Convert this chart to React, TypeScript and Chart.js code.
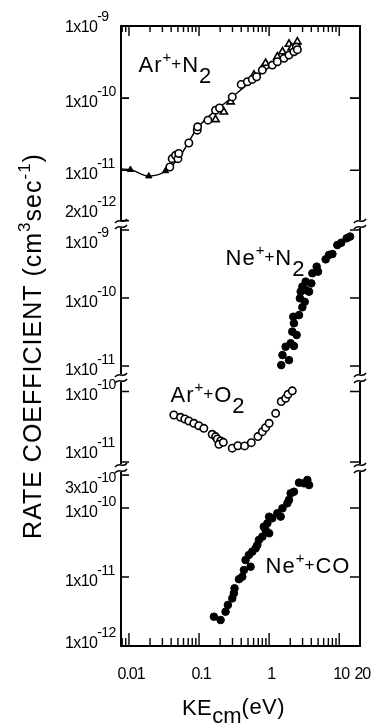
import React, { useEffect, useRef } from 'react';
import { Chart, registerables } from 'chart.js';

Chart.register(...registerables);

// ---- Data (x: KE_cm in eV, y: rate coefficient in cm^3 s^-1) ----
// Panel 1: Ar+ + N2
const arN2CircleKE = [0.0383, 0.0414, 0.0461, 0.05, 0.0514, 0.0715, 0.0942, 0.0955, 0.134, 0.172, 0.196, 0.298, 0.4, 0.489, 0.575, 0.663, 0.8, 1.11, 1.31, 1.63, 1.92, 2.26, 2.45, 2.53];
const arN2CircleK = [1.11e-11, 1.45e-11, 1.61e-11, 1.45e-11, 1.71e-11, 2.39e-11, 3.6e-11, 4.0e-11, 4.95e-11, 6.8e-11, 7.3e-11, 1.04e-10, 1.55e-10, 1.69e-10, 1.82e-10, 1.98e-10, 2.45e-10, 2.87e-10, 3.2e-10, 3.56e-10, 3.95e-10, 4.4e-10, 5.1e-10, 4.7e-10];
const arN2TriangleKE = [0.172, 0.226, 0.282, 0.607, 0.89, 1.31, 1.55, 1.92, 2.1, 2.53];
const arN2TriangleK = [5.06e-11, 6.45e-11, 8.9e-11, 2.09e-10, 3.05e-10, 3.75e-10, 4.4e-10, 5.6e-10, 5.0e-10, 6.05e-10];
const arN2FilledKE = [0.0105, 0.0192, 0.0332];
const arN2FilledK = [1.02e-11, 8.3e-12, 9.8e-12];
const arN2CurveKE = [0.0077, 0.0105, 0.0192, 0.0351, 0.0544, 0.094, 0.282, 1.05, 2.47];
const arN2CurveK = [1.04e-11, 1.02e-11, 8.3e-12, 1.0e-11, 1.61e-11, 3.8e-11, 9.9e-11, 2.78e-10, 4.95e-10];

// Panel 2: Ne+ + N2
const neN2KE = [1.49, 1.55, 1.92, 1.72, 2.03, 2.26, 2.14, 2.47, 2.26, 2.21, 2.67, 2.98, 2.75, 3.22, 2.82, 3.32, 2.98, 3.71, 3.32, 4.0, 4.14, 4.98, 4.77, 6.41, 7.15, 8.0, 9.4, 10.7, 12.8, 14.3];
const neN2K = [1.03e-11, 1.45e-11, 1.22e-11, 1.92e-11, 2.16e-11, 1.97e-11, 3.2e-11, 2.86e-11, 4.25e-11, 5.3e-11, 5.6e-11, 7.3e-11, 9.9e-11, 8.8e-11, 1.24e-10, 1.31e-10, 1.47e-10, 1.24e-10, 1.74e-10, 1.64e-10, 2.31e-10, 2.44e-10, 2.89e-10, 3.7e-10, 4.3e-10, 4.44e-10, 6.0e-10, 6.5e-10, 7.55e-10, 8.0e-10];

// Panel 3: Ar+ + O2
const arO2KE = [0.0437, 0.0545, 0.0627, 0.0715, 0.0843, 0.0993, 0.117, 0.154, 0.172, 0.182, 0.203, 0.192, 0.222, 0.298, 0.358, 0.447, 0.557, 0.692, 0.8, 0.89, 1.0, 1.24, 1.49, 1.72, 1.86, 2.14];
const arO2K = [4.64e-11, 4.3e-11, 4.07e-11, 3.82e-11, 3.54e-11, 3.27e-11, 3.0e-11, 2.47e-11, 2.29e-11, 2.12e-11, 1.99e-11, 1.78e-11, 1.9e-11, 1.57e-11, 1.7e-11, 1.69e-11, 1.88e-11, 2.29e-11, 2.69e-11, 3.07e-11, 3.54e-11, 4.9e-11, 7.2e-11, 8.0e-11, 9.1e-11, 1.02e-10];

// Panel 4: Ne+ + CO
const neCOKE = [0.163, 0.203, 0.239, 0.258, 0.298, 0.314, 0.321, 0.371, 0.414, 0.437, 0.544, 0.514, 0.575, 0.678, 0.715, 0.8, 0.89, 0.84, 0.943, 1.0, 1.11, 1.31, 1.46, 1.55, 1.82, 1.92, 2.03, 2.26, 2.67, 3.14, 3.51, 3.71, 1.0, 0.641, 0.461];
const neCOK = [2.66e-12, 2.38e-12, 3.14e-12, 3.93e-12, 4.9e-12, 5.8e-12, 6.86e-12, 9.3e-12, 1.01e-11, 1.26e-11, 1.41e-11, 2.08e-11, 2.33e-11, 2.91e-11, 3.44e-11, 3.84e-11, 4.8e-11, 5.36e-11, 6.0e-11, 7.48e-11, 7.1e-11, 8.4e-11, 7.5e-11, 9.9e-11, 1.17e-10, 1.31e-10, 1.63e-10, 1.72e-10, 2.33e-10, 2.28e-10, 2.55e-10, 2.15e-10, 4.3e-11, 2.6e-11, 1.76e-11];

// ---- Axes ----
const xMin = 0.0077;
const xMax = 19.8;
const xMajorTicks = [0.01, 0.1, 1, 10];
const xTickLabelValues = [0.01, 0.1, 1, 10, 20];
const xTickLabels = ['0.01', '0.1', '1', '10', '20'];

const panelIds = ['yArN2', 'yNeN2', 'yArO2', 'yNeCO'];
const panelMin = [1.8e-12, 6.66e-12, 8.22e-12, 1e-12];
const panelMax = [1e-9, 1.225e-9, 1.553e-10, 3.8e-10];
const panelWeight = [198, 154, 90, 178];
const panelTickValues = [
  [1e-9, 1e-10, 1e-11, 2e-12],
  [1e-9, 1e-10, 1e-11],
  [1e-10, 1e-11],
  [3e-10, 1e-10, 1e-11, 1e-12],
];
const panelTickMantissa = [
  ['1', '1', '1', '2'],
  ['1', '1', '1'],
  ['1', '1'],
  ['3', '1', '1', '1'],
];
const panelTickExponent = [
  ['-9', '-10', '-11', '-12'],
  ['-9', '-10', '-11'],
  ['-10', '-11'],
  ['-10', '-10', '-11', '-12'],
];
// Reaction labels: [ion, neutral] and anchor in data coordinates
const panelIon = ['Ar', 'Ne', 'Ar', 'Ne'];
const panelNeutral = [['N', '2'], ['N', '2'], ['O', '2'], ['CO', '']];
const panelLabelKE = [0.0137, 0.239, 0.0392, 0.891];
const panelLabelK = [2.3e-10, 3.06e-10, 7.1e-11, 1.14e-11];

const FONT = '"Liberation Sans", Arial, Helvetica, sans-serif';

type Part = { t: string; size: number; dy: number; ls?: number };

function partsWidth(ctx: CanvasRenderingContext2D, parts: Part[]) {
  let w = 0;
  for (const p of parts) {
    ctx.font = `${p.size}px ${FONT}`;
    (ctx as any).letterSpacing = `${p.ls ?? 0}px`;
    w += ctx.measureText(p.t).width;
  }
  return w;
}

function drawParts(ctx: CanvasRenderingContext2D, parts: Part[], x: number, y: number, align: 'left' | 'center' = 'left') {
  let cx = align === 'center' ? x - partsWidth(ctx, parts) / 2 : x;
  ctx.textAlign = 'left';
  ctx.textBaseline = 'alphabetic';
  for (const p of parts) {
    ctx.font = `${p.size}px ${FONT}`;
    (ctx as any).letterSpacing = `${p.ls ?? 0}px`;
    ctx.fillText(p.t, cx, y + p.dy);
    cx += ctx.measureText(p.t).width;
  }
}

function drawBreak(ctx: CanvasRenderingContext2D, x: number, y: number) {
  ctx.save();
  ctx.strokeStyle = '#000';
  ctx.lineWidth = 1.5;
  for (const off of [-3, 3]) {
    const yy = y + off;
    ctx.beginPath();
    ctx.moveTo(x - 6, yy + 2);
    ctx.bezierCurveTo(x - 2, yy - 4, x + 2, yy + 4, x + 6, yy - 2);
    ctx.stroke();
  }
  ctx.restore();
}

const decorPlugin = {
  id: 'decor',
  afterDraw(chart: any) {
    const ctx: CanvasRenderingContext2D = chart.ctx;
    const { left, right, top, bottom } = chart.chartArea;
    const xs = chart.scales.x;
    const ys = panelIds.map((id) => chart.scales[id]);
    ctx.save();
    ctx.strokeStyle = '#000';
    ctx.fillStyle = '#000';
    ctx.lineCap = 'butt';

    // Frame
    ctx.lineWidth = 2;
    ctx.beginPath();
    ctx.moveTo(left - 1, top);
    ctx.lineTo(right + 1, top);
    ctx.moveTo(left - 1, bottom);
    ctx.lineTo(right + 1, bottom);
    const gap = 4;
    ys.forEach((s: any, i: number) => {
      const t = s.top + (i > 0 ? gap : 0);
      const b = s.bottom - (i < ys.length - 1 ? gap : 0);
      ctx.moveTo(left, t);
      ctx.lineTo(left, b);
      ctx.moveTo(right, t);
      ctx.lineTo(right, b);
    });
    ctx.stroke();

    // Breaks
    ys.slice(0, -1).forEach((s: any) => {
      drawBreak(ctx, left, s.bottom);
      drawBreak(ctx, right, s.bottom);
    });

    // X ticks (top and bottom)
    ctx.lineWidth = 1.4;
    ctx.beginPath();
    for (let d = -3; d <= 1; d++) {
      for (let m = 1; m <= 9; m++) {
        const v = m * Math.pow(10, d);
        if (v <= xMin || v >= xMax) continue;
        const px = xs.getPixelForValue(v);
        const major = xMajorTicks.includes(Number(v.toPrecision(3)));
        ctx.moveTo(px, bottom);
        ctx.lineTo(px, bottom - (major ? 13 : 8));
        ctx.moveTo(px, top);
        ctx.lineTo(px, top + (major ? 10 : 6));
      }
    }
    ctx.stroke();

    // X tick labels
    ctx.fillStyle = '#000';
    xTickLabelValues.forEach((v, i) => {
      const px = xs.getPixelForValue(v);
      drawParts(ctx, [{ t: xTickLabels[i], size: 16, dy: 0, ls: -1 }], px + 2, bottom + 33, 'center');
    });

    // Y ticks and labels
    ctx.lineWidth = 1.6;
    ys.forEach((s: any, i: number) => {
      panelTickValues[i].forEach((v, j) => {
        const py = s.getPixelForValue(v);
        const nearEdge = py < top + 2 || py > bottom - 2;
        ctx.beginPath();
        if (!nearEdge) {
          ctx.moveTo(left, py);
          ctx.lineTo(left + 8, py);
          if (panelTickMantissa[i][j] === '1' && py > s.top + 5 && py < s.bottom - 5) {
            ctx.moveTo(right, py);
            ctx.lineTo(right - 10, py);
          }
        }
        ctx.stroke();
        // label placement: keep labels clear of the axis breaks
        let base = py + 9;
        if (py < top + 2) base = py + 6;
        else if (py > bottom - 2) base = py + 2;
        else if (s.bottom - py < 8) base = py - 4;
        else if (py - s.top < 10) base = py + 18;
        drawParts(
          ctx,
          [
            { t: panelTickMantissa[i][j] + 'x10', size: 16, dy: 0, ls: -0.6 },
            { t: panelTickExponent[i][j], size: 14, dy: -11, ls: -0.6 },
          ],
          left - 56,
          base,
        );
      });
    });

    // Panel reaction labels
    ys.forEach((s: any, i: number) => {
      const px = xs.getPixelForValue(panelLabelKE[i]);
      const py = s.getPixelForValue(panelLabelK[i]);
      const parts: Part[] = [
        { t: panelIon[i], size: 22, dy: 0, ls: 1 },
        { t: '+', size: 15, dy: -10, ls: 0 },
        { t: '+', size: 17, dy: -3, ls: 1 },
        { t: panelNeutral[i][0], size: 22, dy: 0, ls: 1 },
      ];
      if (panelNeutral[i][1]) parts.push({ t: panelNeutral[i][1], size: 22, dy: 11, ls: 0 });
      drawParts(ctx, parts, px, py);
    });

    // Y axis title
    ctx.save();
    ctx.translate(41, top + 320);
    ctx.rotate(-Math.PI / 2);
    drawParts(
      ctx,
      [
        { t: 'RATE COEFFICIENT (cm', size: 25, dy: 0, ls: 1 },
        { t: '3', size: 17, dy: -11, ls: 1 },
        { t: 'sec', size: 25, dy: 0, ls: 1 },
        { t: '-1', size: 17, dy: -11, ls: 1 },
        { t: ')', size: 25, dy: 0, ls: 1 },
      ],
      0,
      0,
      'center',
    );
    ctx.restore();

    // X axis title
    drawParts(
      ctx,
      [
        { t: 'KE', size: 22, dy: 0, ls: 0.5 },
        { t: 'cm', size: 22, dy: 8, ls: 0 },
        { t: '(eV)', size: 22, dy: -1, ls: 0.5 },
      ],
      (left + right) / 2 - 7,
      bottom + 69,
      'center',
    );

    ctx.restore();
  },
};

const pts = (xs: number[], ys: number[]) => xs.map((x, i) => ({ x, y: ys[i] }));

export default function App() {
  const canvasRef = useRef<HTMLCanvasElement | null>(null);

  useEffect(() => {
    if (!canvasRef.current) return;
    const hidden = {
      ticks: { display: false },
      grid: { display: false, drawTicks: false },
      border: { display: false },
    };
    const yScales: any = {};
    panelIds.forEach((id, i) => {
      yScales[id] = {
        type: 'logarithmic',
        position: 'left',
        stack: 'rate',
        stackWeight: panelWeight[i],
        weight: panelIds.length - i,
        min: panelMin[i],
        max: panelMax[i],
        ...hidden,
        afterFit: (s: any) => {
          s.width = 0;
        },
      };
    });

    const open = { backgroundColor: '#fff', borderColor: '#000', pointBorderWidth: 1.6, pointRadius: 3.7 };
    const filled = { backgroundColor: '#000', borderColor: '#000', pointBorderWidth: 1, pointRadius: 3.8 };

    const chart = new Chart(canvasRef.current, {
      type: 'scatter',
      data: {
        datasets: [
          { label: 'Ar+ + N2 (open circles)', data: pts(arN2CircleKE, arN2CircleK), yAxisID: 'yArN2', ...open, order: 1 } as any,
          { label: 'Ar+ + N2 (open triangles)', data: pts(arN2TriangleKE, arN2TriangleK), yAxisID: 'yArN2', ...open, pointStyle: 'triangle', pointRadius: 4.2, order: 2 },
          { label: 'Ar+ + N2 (filled)', data: pts(arN2FilledKE, arN2FilledK), yAxisID: 'yArN2', ...filled, pointStyle: 'triangle', pointRadius: 3.6, order: 2 },
          {
            label: 'Ar+ + N2 fit',
            data: pts(arN2CurveKE, arN2CurveK),
            yAxisID: 'yArN2',
            showLine: true,
            borderColor: '#000',
            borderWidth: 1.4,
            pointRadius: 0,
            cubicInterpolationMode: 'monotone',
            order: 10,
          },
          { label: 'Ne+ + N2', data: pts(neN2KE, neN2K), yAxisID: 'yNeN2', ...filled, order: 1 },
          { label: 'Ar+ + O2', data: pts(arO2KE, arO2K), yAxisID: 'yArO2', ...open, order: 1 },
          { label: 'Ne+ + CO', data: pts(neCOKE, neCOK), yAxisID: 'yNeCO', ...filled, order: 1 },
        ],
      },
      options: {
        responsive: false,
        animation: false,
        devicePixelRatio: 1,
        events: [],
        layout: { padding: { left: 121, right: 14, top: 26, bottom: 78 } },
        plugins: { legend: { display: false }, tooltip: { enabled: false } },
        scales: {
          x: {
            type: 'logarithmic',
            position: 'bottom',
            min: xMin,
            max: xMax,
            ...hidden,
            afterFit: (s: any) => {
              s.height = 0;
            },
          },
          ...yScales,
        },
      } as any,
      plugins: [decorPlugin],
    });
    return () => chart.destroy();
  }, []);

  return (
    <div style={{ position: 'absolute', left: 0, top: 0, width: 374, height: 724, background: '#fff' }}>
      <canvas ref={canvasRef} width={374} height={724} style={{ display: 'block' }} />
    </div>
  );
}
